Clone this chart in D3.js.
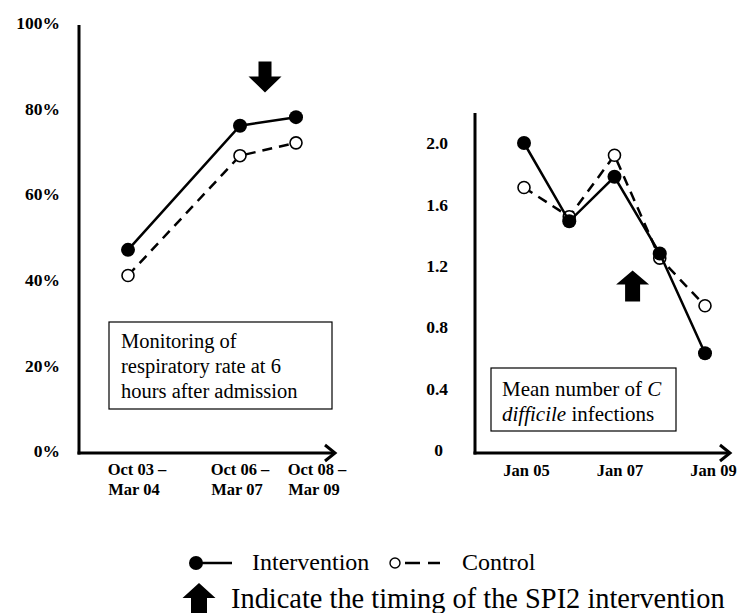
<!DOCTYPE html>
<html><head><meta charset="utf-8">
<script src="https://cdn.jsdelivr.net/npm/d3@7"></script>
<style>body{margin:0;background:#fff}svg{display:block}</style>
</head><body><svg id="c" width="737" height="613"></svg>
<script>
// ---- data ----
const leftPeriods = ["Oct 03 – Mar 04", "Oct 06 – Mar 07", "Oct 08 – Mar 09"];
const leftIntervention = [47, 76, 78];
const leftControl = [41, 69, 72];
const leftTicks = [0, 20, 40, 60, 80, 100];

const rightYears = [2005, 2006, 2007, 2008, 2009];
const rightIntervention = [2.0, 1.49, 1.78, 1.28, 0.63];
const rightControl = [1.71, 1.52, 1.92, 1.25, 0.94];
const rightTicks = [0, 0.4, 0.8, 1.2, 1.6, 2.0];
const rightTickYears = [2005, 2007, 2009];

const seriesNames = ["Intervention", "Control"];

// ---- drawing ----
const svg = d3.select("#c");
const FONT = "'Liberation Serif','Times New Roman',serif";

function chevron(g, x, y) {
  g.append("path").attr("d", `M${x-10},${y-8}L${x},${y}L${x-10},${y+8}`)
    .attr("fill", "none").attr("stroke", "#000").attr("stroke-width", 3)
    .attr("stroke-linejoin", "miter");
}
function blockArrow(g, cx, top, len, headW, headH, shaftW, dir) {
  let p;
  if (dir === 1) {
    p = [[cx, top], [cx + headW/2, top + headH], [cx + shaftW/2, top + headH], [cx + shaftW/2, top + len],
         [cx - shaftW/2, top + len], [cx - shaftW/2, top + headH], [cx - headW/2, top + headH]];
  } else {
    const b = top + len;
    p = [[cx, b], [cx + headW/2, b - headH], [cx + shaftW/2, b - headH], [cx + shaftW/2, top],
         [cx - shaftW/2, top], [cx - shaftW/2, b - headH], [cx - headW/2, b - headH]];
  }
  g.append("path").attr("d", d3.line()(p) + "Z").attr("fill", "#000");
}

// ===== Left chart =====
const gL = svg.append("g");
const xL = d3.scaleOrdinal().domain(leftPeriods).range([128, 240, 296]);
const yL = d3.scaleLinear().domain([0, 100]).range([451, 23]);
const axL = 79, axB = 453;

gL.append("g").attr("transform", `translate(60,0)`)
  .call(d3.axisLeft(yL).tickValues(leftTicks).tickSize(0).tickPadding(0).tickFormat(d => d + "%"))
  .call(g => g.select(".domain").remove())
  .call(g => g.selectAll("text").attr("font-family", FONT).attr("font-weight", "bold")
    .attr("font-size", 17.5).attr("fill", "#000"));

gL.append("line").attr("x1", axL).attr("x2", axL).attr("y1", 25).attr("y2", axB + 1.5)
  .attr("stroke", "#000").attr("stroke-width", 3);
gL.append("line").attr("x1", axL - 1.5).attr("x2", 334).attr("y1", axB).attr("y2", axB)
  .attr("stroke", "#000").attr("stroke-width", 3);
chevron(gL, 335, axB);

const leftLabelDx = [9, 0, 21];
leftPeriods.forEach((p, i) => {
  const parts = p.split(" – ");
  const t = gL.append("text").attr("font-family", FONT).attr("font-weight", "bold").attr("font-size", 16.5)
    .attr("text-anchor", "middle").attr("x", xL(p) + leftLabelDx[i]).attr("y", 475);
  t.append("tspan").attr("x", xL(p) + leftLabelDx[i]).text(parts[0] + " –");
  t.append("tspan").attr("x", xL(p) + leftLabelDx[i] - 3).attr("dy", 20).text(parts[1]);
});

const lineL = d3.line().x(d => xL(d[0])).y(d => yL(d[1]));
const ctlL = leftPeriods.map((p, i) => [p, leftControl[i]]);
const intL = leftPeriods.map((p, i) => [p, leftIntervention[i]]);
gL.append("path").attr("d", lineL(ctlL)).attr("fill", "none").attr("stroke", "#000")
  .attr("stroke-width", 2.5).attr("stroke-dasharray", "10,7");
gL.append("path").attr("d", lineL(intL)).attr("fill", "none").attr("stroke", "#000").attr("stroke-width", 2.5);
gL.selectAll(".cl").data(ctlL).enter().append("circle")
  .attr("cx", d => xL(d[0])).attr("cy", d => yL(d[1])).attr("r", 6)
  .attr("fill", "#fff").attr("stroke", "#000").attr("stroke-width", 1.6);
gL.selectAll(".il").data(intL).enter().append("circle")
  .attr("cx", d => xL(d[0])).attr("cy", d => yL(d[1])).attr("r", 7).attr("fill", "#000");

blockArrow(gL, (xL(leftPeriods[1]) + xL(leftPeriods[2])) / 2 - 3, yL(91), 31, 33, 16, 13, -1);

gL.append("rect").attr("x", 109).attr("y", 322).attr("width", 223).attr("height", 87)
  .attr("fill", "#fff").attr("stroke", "#000").attr("stroke-width", 1.2);
["Monitoring of", "respiratory rate at 6", "hours after admission"].forEach((s, i) => {
  gL.append("text").attr("x", 121).attr("y", 348 + i * 25).attr("font-family", FONT)
    .attr("font-size", 20.5).text(s);
});

// ===== Right chart =====
const gR = svg.append("g");
const xR = d3.scaleLinear().domain([2005, 2009]).range([524, 705]);
const yR = d3.scaleLinear().domain([0, 2]).range([450, 143]);
const arL = 475;

gR.append("g").attr("transform", `translate(448,0)`)
  .call(d3.axisLeft(yR).tickValues(rightTicks).tickSize(0).tickPadding(0)
    .tickFormat(d => d === 0 ? "0" : d.toFixed(1)))
  .call(g => g.select(".domain").remove())
  .call(g => g.selectAll("text").attr("font-family", FONT).attr("font-weight", "bold")
    .attr("font-size", 17.5).attr("fill", "#000")
    .attr("dx", d => d === 0 ? -5 : 0));

gR.append("line").attr("x1", arL).attr("x2", arL).attr("y1", 113).attr("y2", axB + 1.5)
  .attr("stroke", "#000").attr("stroke-width", 3);
gR.append("line").attr("x1", arL - 1.5).attr("x2", 729).attr("y1", axB).attr("y2", axB)
  .attr("stroke", "#000").attr("stroke-width", 3);
chevron(gR, 730, axB);

const rightLabelDx = [2, 5, 8];
gR.append("g").attr("transform", `translate(0,476)`)
  .call(d3.axisBottom(xR).tickValues(rightTickYears).tickSize(0).tickPadding(0)
    .tickFormat(d => "Jan " + String(d).slice(2)))
  .call(g => g.select(".domain").remove())
  .call(g => g.selectAll("text").attr("font-family", FONT).attr("font-weight", "bold")
    .attr("font-size", 16.5).attr("fill", "#000").attr("dy", 0)
    .attr("dx", (d, i) => rightLabelDx[i]));

const lineR = d3.line().x(d => xR(d[0])).y(d => yR(d[1]));
const ctlR = rightYears.map((y, i) => [y, rightControl[i]]);
const intR = rightYears.map((y, i) => [y, rightIntervention[i]]);
gR.append("path").attr("d", lineR(ctlR)).attr("fill", "none").attr("stroke", "#000")
  .attr("stroke-width", 2.5).attr("stroke-dasharray", "10,7");
gR.selectAll(".cr").data(ctlR).enter().append("circle")
  .attr("cx", d => xR(d[0])).attr("cy", d => yR(d[1])).attr("r", 6)
  .attr("fill", "#fff").attr("stroke", "#000").attr("stroke-width", 1.6);
gR.append("path").attr("d", lineR(intR)).attr("fill", "none").attr("stroke", "#000").attr("stroke-width", 2.5);
gR.selectAll(".ir").data(intR).enter().append("circle")
  .attr("cx", d => xR(d[0])).attr("cy", d => yR(d[1])).attr("r", 7).attr("fill", "#000");

blockArrow(gR, xR(2007.4), yR(1.17), 31, 33, 14, 15, 1);

gR.append("rect").attr("x", 491).attr("y", 368).attr("width", 185).attr("height", 63)
  .attr("fill", "#fff").attr("stroke", "#000").attr("stroke-width", 1.2);
const t1 = gR.append("text").attr("x", 502).attr("y", 396).attr("font-family", FONT).attr("font-size", 21);
t1.append("tspan").text("Mean number of ");
t1.append("tspan").attr("font-style", "italic").text("C");
const t2 = gR.append("text").attr("x", 502).attr("y", 421).attr("font-family", FONT).attr("font-size", 21);
t2.append("tspan").attr("font-style", "italic").text("difficile");
t2.append("tspan").text(" infections");

// ===== Legend =====
const gG = svg.append("g");
gG.append("line").attr("x1", 196).attr("x2", 232).attr("y1", 563).attr("y2", 563)
  .attr("stroke", "#000").attr("stroke-width", 2.5);
gG.append("circle").attr("cx", 196).attr("cy", 563).attr("r", 7).attr("fill", "#000");
gG.append("text").attr("x", 252).attr("y", 570).attr("font-family", FONT).attr("font-size", 24).text(seriesNames[0]);
gG.append("line").attr("x1", 405).attr("x2", 440).attr("y1", 563).attr("y2", 563)
  .attr("stroke", "#000").attr("stroke-width", 2.5).attr("stroke-dasharray", "15,8");
gG.append("circle").attr("cx", 395).attr("cy", 563).attr("r", 5).attr("fill", "#fff")
  .attr("stroke", "#000").attr("stroke-width", 1.4);
gG.append("text").attr("x", 462).attr("y", 570).attr("font-family", FONT).attr("font-size", 24).text(seriesNames[1]);

blockArrow(gG, 199, 583, 30, 33, 15, 16, 1);
gG.append("text").attr("x", 231).attr("y", 608).attr("font-family", FONT).attr("font-size", 28.4)
  .text("Indicate the timing of the SPI2 intervention");
</script></body></html>
